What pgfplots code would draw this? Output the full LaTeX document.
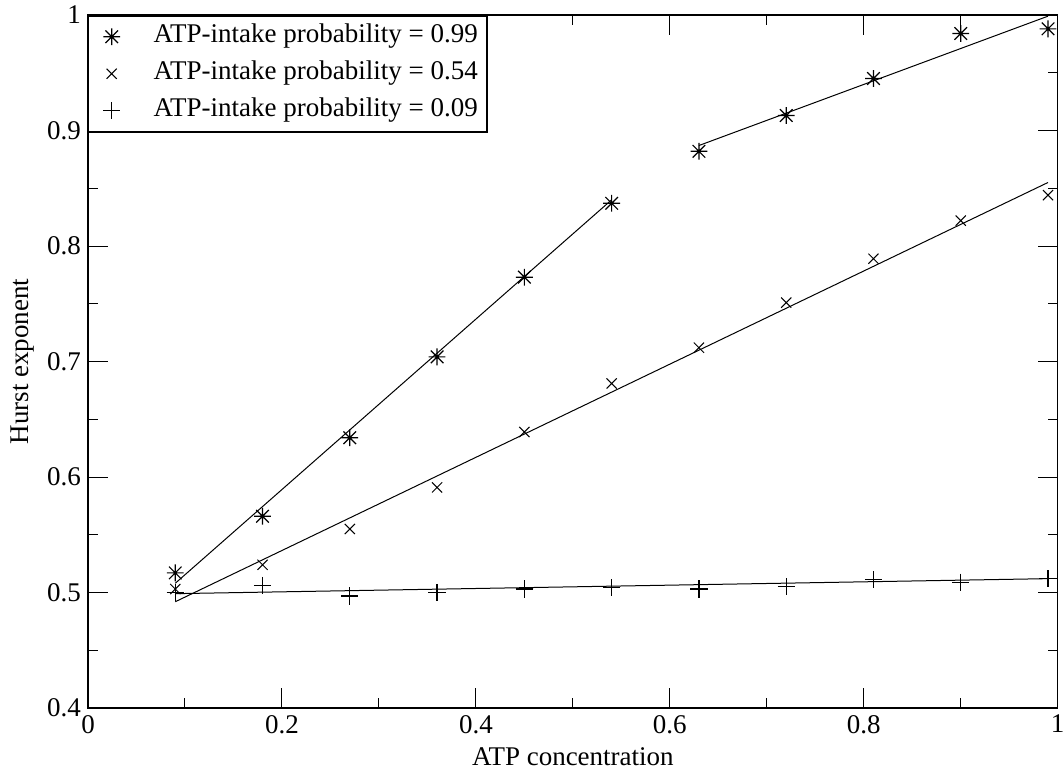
\documentclass[border=0pt]{standalone}
\usepackage{fontspec}
\setmainfont{Liberation Serif}
\usepackage{pgfplots}
\pgfplotsset{compat=1.18}
\pgfdeclareplotmark{star8}{%
  \pgfpathmoveto{\pgfqpoint{0pt}{\pgfplotmarksize}}%
  \pgfpathlineto{\pgfqpoint{0pt}{-\pgfplotmarksize}}%
  \pgfpathmoveto{\pgfqpoint{\pgfplotmarksize}{0pt}}%
  \pgfpathlineto{\pgfqpoint{-\pgfplotmarksize}{0pt}}%
  \pgfpathmoveto{\pgfqpoint{0.75\pgfplotmarksize}{0.75\pgfplotmarksize}}%
  \pgfpathlineto{\pgfqpoint{-0.75\pgfplotmarksize}{-0.75\pgfplotmarksize}}%
  \pgfpathmoveto{\pgfqpoint{-0.75\pgfplotmarksize}{0.75\pgfplotmarksize}}%
  \pgfpathlineto{\pgfqpoint{0.75\pgfplotmarksize}{-0.75\pgfplotmarksize}}%
  \pgfusepathqstroke}
\pgfplotsset{myleg/.style={legend image code/.code={\path[draw=none,fill=none] (0pt,-1pt) rectangle (19.6pt,1pt); \draw[##1] plot coordinates {(8.5pt,0pt)};}}}
\pgfplotstableread{
x y
0.09 0.517
0.18 0.566
0.27 0.634
0.36 0.704
0.45 0.773
0.54 0.837
0.63 0.882
0.72 0.913
0.81 0.945
0.90 0.984
0.99 0.988
}\highp
\pgfplotstableread{
x y
0.09 0.503
0.18 0.524
0.27 0.555
0.36 0.591
0.45 0.639
0.54 0.681
0.63 0.712
0.72 0.751
0.81 0.789
0.90 0.822
0.99 0.844
}\midp
\pgfplotstableread{
x y
0.09 0.500
0.18 0.506
0.27 0.497
0.36 0.500
0.45 0.503
0.54 0.504
0.63 0.503
0.72 0.505
0.81 0.511
0.90 0.509
0.99 0.512
}\lowp
\begin{document}
\begin{tikzpicture}[font=\fontsize{13.5}{16}\selectfont]
\useasboundingbox (-44pt,-32.5pt) rectangle (487.5pt,354pt);
\begin{axis}[
  scale only axis,
  width=484.85pt, height=346.5pt,
  xmin=0, xmax=1, ymin=0.4, ymax=1,
  xtick={0,0.2,0.4,0.6,0.8,1},
  ytick={0.4,0.5,0.6,0.7,0.8,0.9,1},
  minor x tick num=1, minor y tick num=1,
  tick align=inside,
  xtick pos=both, ytick pos=both,
  xticklabel pos=left, yticklabel pos=left,
  major tick length=10pt, minor tick length=5pt,
  every tick/.style={black, line width=0.5pt},
  axis line style={line width=0.75pt},
  /pgf/number format/assume math mode=true,
  xlabel={ATP concentration},
  ylabel={Hurst exponent},
  xlabel style={at={(axis description cs:0.5,-0.0707)}, anchor=center},
  ylabel style={at={(axis description cs:-0.068,0.5)}, anchor=center},
  legend cell align=left,
  legend style={at={(0,1)}, anchor=north west, draw=black, fill=white,
    line width=0.75pt, inner xsep=2.97pt, inner ysep=3pt,
    nodes={inner sep=1.5pt, text height=9pt, text depth=3pt},
    row sep=3.5pt, column sep=8.4pt},
]
\addplot[only marks, myleg, mark=star8, mark size=4.2pt, mark options={line width=0.6pt}] table {\highp};
\addlegendentry{ATP-intake probability = 0.99}
\addplot[only marks, myleg, mark=x, mark size=3.6pt, mark options={line width=0.5pt}] table {\midp};
\addlegendentry{ATP-intake probability = 0.54}
\addplot[only marks, myleg, mark=+, mark size=4.3pt, mark options={line width=0.6pt}] table {\lowp};
\addlegendentry{ATP-intake probability = 0.09}
\addplot[forget plot, no marks, line width=0.5pt] coordinates {(0.09,0.508) (0.54,0.840)};
\addplot[forget plot, no marks, line width=0.5pt] coordinates {(0.63,0.887) (0.99,0.999)};
\addplot[forget plot, no marks, line width=0.5pt] coordinates {(0.09,0.492) (0.99,0.855)};
\addplot[forget plot, no marks, line width=0.5pt] coordinates {(0.09,0.499) (0.99,0.512)};
\end{axis}
\end{tikzpicture}
\end{document}
